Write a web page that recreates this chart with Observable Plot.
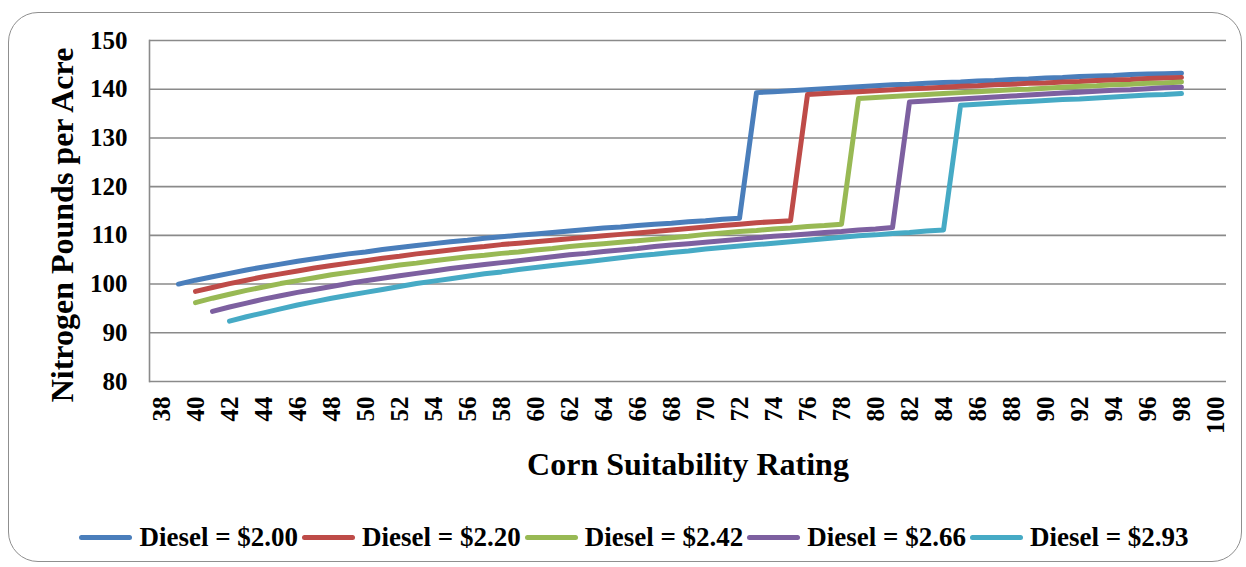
<!DOCTYPE html>
<html>
<head>
<meta charset="utf-8">
<script src="https://cdn.jsdelivr.net/npm/d3@7"></script>
<script src="https://cdn.jsdelivr.net/npm/@observablehq/plot@0.6"></script>
<style>
  html, body { margin: 0; padding: 0; background: #fff; }
  #wrap { position: relative; width: 1246px; height: 567px; overflow: hidden;
          font-family: "Liberation Serif", Tinos, "Times New Roman", Times, "DejaVu Serif", serif; font-weight: bold; color: #000; }
  #box { position: absolute; left: 8px; top: 12px; width: 1232px; height: 548px;
         border: 1.5px solid #8f8f8f; border-radius: 30px; }
  #chart { position: absolute; left: 0; top: 0; }
  .ytitle { position: absolute; left: 62px; top: 225px; font-size: 32px; white-space: nowrap;
            transform: translate(-50%, -50%) rotate(-90deg); }
  .xtitle { position: absolute; left: 688px; top: 464px; font-size: 32px; white-space: nowrap;
            transform: translate(-50%, -50%); }
  #legend { position: absolute; left: 0; width: 1272px; top: 522px; display: flex;
            justify-content: center; align-items: center; font-size: 27px; white-space: nowrap; }
  .item { display: flex; align-items: center; margin-right: 4px; }
  .swatch { width: 53px; height: 5px; border-radius: 3px; margin-right: 7px; }
</style>
</head>
<body>
<div id="wrap">
  <div id="box"></div>
  <div id="chart"></div>
  <div class="ytitle">Nitrogen Pounds per Acre</div>
  <div class="xtitle">Corn Suitability Rating</div>
  <div id="legend"></div>
</div>
<script>
// Corn suitability rating categories (38 … 100)
const ratings = [38,39,40,41,42,43,44,45,46,47,48,49,50,51,52,53,54,55,56,57,58,59,60,61,62,63,64,65,66,67,68,69,
  70,71,72,73,74,75,76,77,78,79,80,81,82,83,84,85,86,87,88,89,90,91,92,93,94,95,96,97,98,99,100];
const yTicks = [80, 90, 100, 110, 120, 130, 140, 150];

const seriesNames = ["Diesel = $2.00", "Diesel = $2.20", "Diesel = $2.42", "Diesel = $2.66", "Diesel = $2.93"];
const seriesColors = ["#4a7ebb", "#be4b48", "#98b954", "#7d60a0", "#46aac5"];
// first rating of each series
const firstRating = [39, 40, 40, 41, 42];

// Nitrogen recommendation (lb/acre) by rating, one value per rating from firstRating to 98
const diesel200 = [100.0,100.8,101.5,102.2,102.9,103.5,104.1,104.7,105.2,105.7,106.2,106.6,107.1,107.5,107.9,108.3,
  108.7,109.0,109.4,109.7,110.0,110.3,110.6,110.9,111.2,111.5,111.7,112.0,112.3,112.5,112.8,113.0,113.3,113.5,
  139.3,139.5,139.7,139.9,140.1,140.3,140.5,140.7,140.9,141.0,141.2,141.4,141.5,141.7,141.8,142.0,142.1,142.3,
  142.4,142.6,142.7,142.8,143.0,143.1,143.2,143.3];
const diesel220 = [98.5,99.3,100.1,100.8,101.5,102.1,102.7,103.3,103.8,104.3,104.8,105.3,105.7,106.2,106.6,107.0,
  107.4,107.7,108.1,108.4,108.7,109.0,109.3,109.6,109.9,110.2,110.5,110.8,111.1,111.4,111.7,112.0,112.3,112.6,
  112.8,113.0,
  138.9,139.1,139.3,139.5,139.7,139.9,140.1,140.2,140.4,140.6,140.7,140.9,141.0,141.2,141.3,141.5,141.6,141.8,
  141.9,142.0,142.2,142.3,142.4];
const diesel242 = [96.2,97.1,97.9,98.7,99.4,100.1,100.7,101.3,101.9,102.4,102.9,103.4,103.9,104.3,104.8,105.2,
  105.6,105.9,106.3,106.6,107.0,107.3,107.7,108.0,108.3,108.6,108.9,109.2,109.5,109.8,110.2,110.5,110.8,111.0,
  111.3,111.5,111.8,112.0,112.3,
  138.1,138.3,138.5,138.7,138.9,139.1,139.3,139.5,139.7,139.9,140.0,140.2,140.4,140.6,140.7,140.9,141.0,141.2,
  141.3,141.5];
const diesel266 = [94.4,95.3,96.1,96.9,97.6,98.3,98.9,99.5,100.1,100.7,101.2,101.7,102.2,102.7,103.2,103.6,
  104.0,104.4,104.8,105.2,105.6,106.0,106.3,106.7,107.0,107.3,107.7,108.0,108.3,108.6,108.9,109.2,109.5,109.8,
  110.0,110.3,110.6,110.8,111.1,111.3,111.6,
  137.4,137.6,137.8,138.0,138.2,138.4,138.6,138.8,139.0,139.2,139.4,139.6,139.8,139.9,140.1,140.3,140.4];
const diesel293 = [92.4,93.3,94.1,94.9,95.7,96.4,97.1,97.7,98.3,98.9,99.5,100.1,100.6,101.1,101.6,102.1,
  102.5,103.0,103.4,103.8,104.2,104.6,105.0,105.4,105.8,106.1,106.5,106.8,107.2,107.5,107.8,108.1,108.4,108.7,
  109.0,109.3,109.6,109.9,110.1,110.4,110.6,110.9,111.1,
  136.7,136.9,137.1,137.3,137.5,137.7,137.9,138.0,138.2,138.4,138.6,138.8,138.9,139.1];

const seriesValues = [diesel200, diesel220, diesel242, diesel266, diesel293];

// long-format table for the line mark
const rows = seriesValues.flatMap((vals, i) =>
  vals.map((v, j) => ({rating: firstRating[i] + j, n: v, series: seriesNames[i]})));

const font = '"Liberation Serif", Tinos, "Times New Roman", Times, "DejaVu Serif", serif';

const chart = Plot.plot({
  width: 1246,
  height: 450,
  marginLeft: 149,
  marginRight: 20,
  marginTop: 40,
  marginBottom: 69,
  style: {fontFamily: font, fontWeight: "bold", color: "#000", background: "transparent", overflow: "visible"},
  x: {type: "point", domain: ratings, padding: 0.5, align: 0.5},
  y: {domain: [80, 150]},
  color: {domain: seriesNames, range: seriesColors},
  marks: [
    Plot.ruleY(yTicks, {stroke: "#8a8a8a", strokeWidth: 1.6}),
    Plot.frame({anchor: "left", stroke: "#8a8a8a", strokeWidth: 1.6}),
    Plot.axisY({ticks: yTicks, tickSize: 0, tickPadding: 22, fontSize: 25, label: null}),
    Plot.axisX({ticks: ratings.filter(r => r % 2 === 0), tickSize: 0, tickPadding: 15, tickRotate: -90,
                fontSize: 25, label: null}),
    Plot.line(rows, {x: "rating", y: "n", z: "series", stroke: "series", strokeWidth: 5,
                     strokeLinecap: "round", strokeLinejoin: "round"})
  ]
});
document.getElementById("chart").appendChild(chart);

// legend row
const legend = document.getElementById("legend");
seriesNames.forEach((name, i) => {
  const item = document.createElement("div");
  item.className = "item";
  const sw = document.createElement("div");
  sw.className = "swatch";
  sw.style.background = seriesColors[i];
  const label = document.createElement("span");
  label.textContent = name;
  item.appendChild(sw);
  item.appendChild(label);
  legend.appendChild(item);
});
</script>
</body>
</html>
